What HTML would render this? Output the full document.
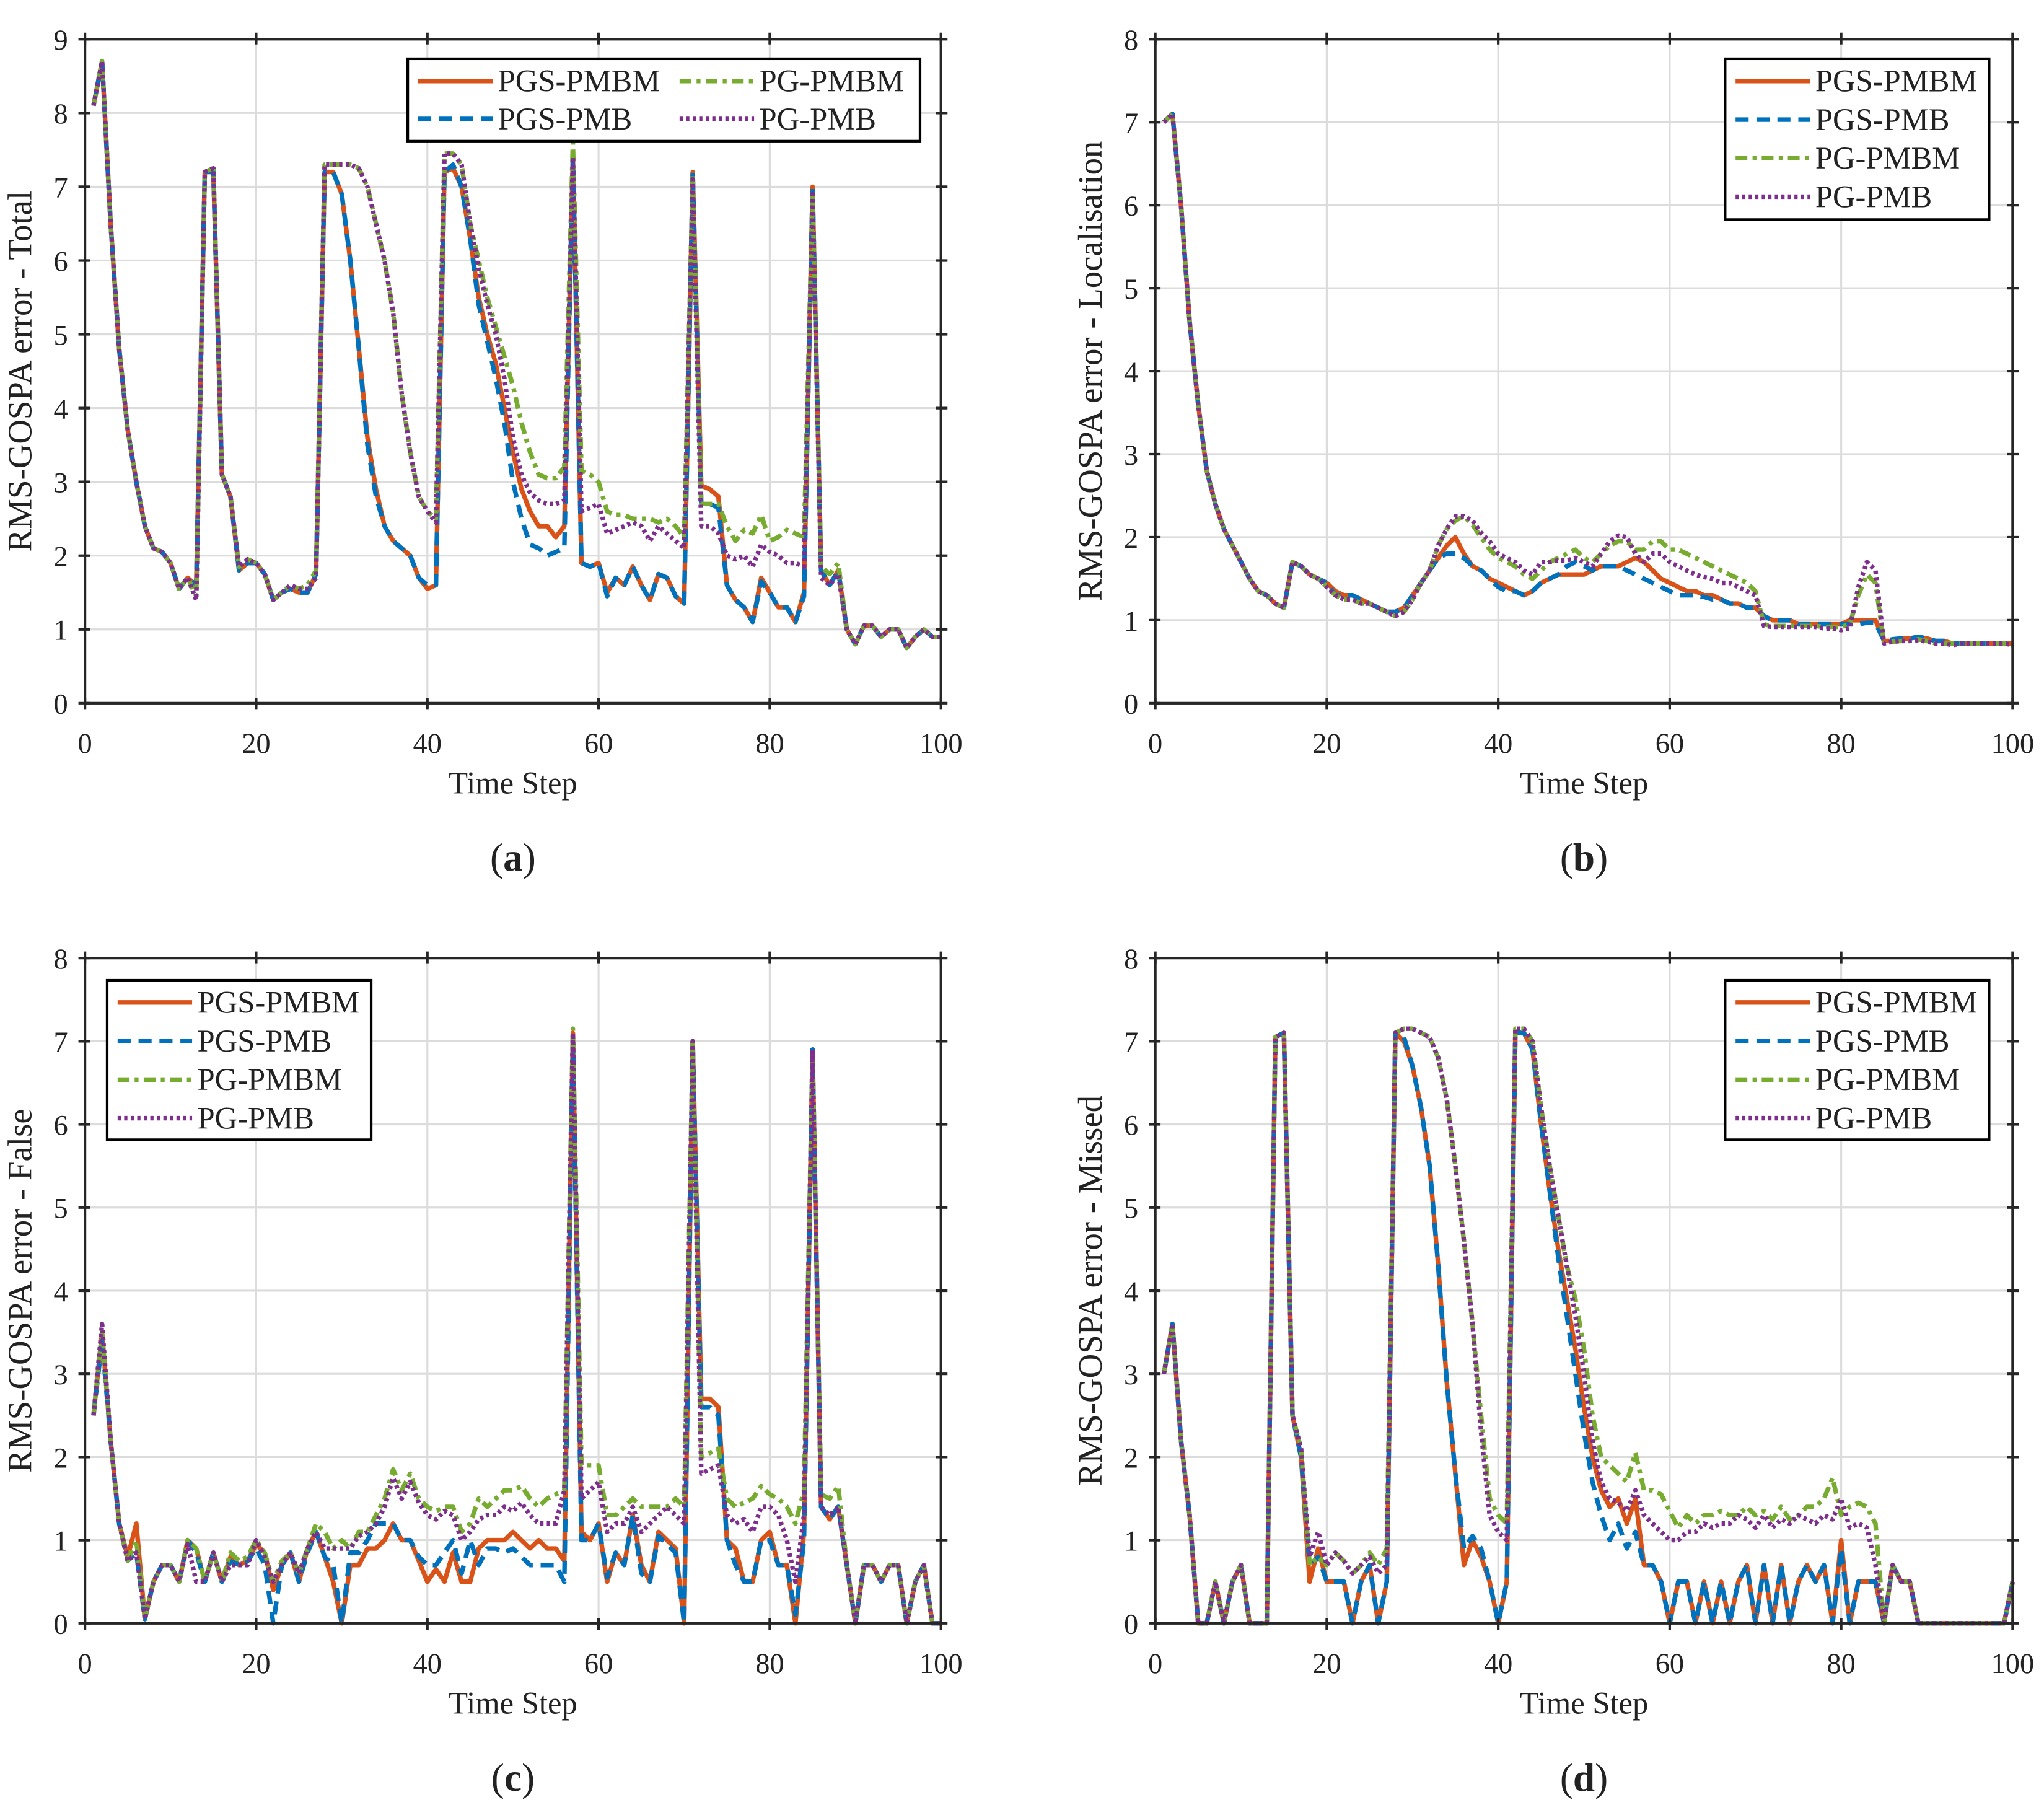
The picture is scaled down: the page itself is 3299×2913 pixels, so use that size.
<!DOCTYPE html>
<html><head><meta charset="utf-8">
<style>
html,body{margin:0;padding:0;background:#fff;}
svg{display:block;}
text{font-family:"Liberation Serif","DejaVu Serif",serif;fill:#222;}
</style></head>
<body>
<svg id="fig" xmlns="http://www.w3.org/2000/svg" width="3299" height="2913" viewBox="0 0 1564 1381">
<rect width="1564" height="1381" fill="#fff"/>
</svg>
<script>
const timeSteps=[];for(let i=1;i<=100;i++)timeSteps.push(i);
const seriesNames=["PGS-PMBM","PGS-PMB","PG-PMBM","PG-PMB"];
const xTicks=[0,20,40,60,80,100];
// Panel (a) total
const a_pgsPmbm=[8.1,8.7,6.5,4.8,3.7,3.0,2.4,2.1,2.05,1.9,1.55,1.7,1.6,7.2,7.2,3.1,2.8,1.8,1.9,1.9,1.75,1.4,1.5,1.55,1.5,1.5,1.75,7.2,7.2,6.9,6.0,4.8,3.6,2.9,2.4,2.2,2.1,2.0,1.7,1.55,1.6,7.2,7.25,7.0,6.3,5.5,5.0,4.6,4.0,3.4,2.9,2.6,2.4,2.4,2.25,2.4,7.4,1.9,1.85,1.9,1.5,1.7,1.6,1.85,1.6,1.4,1.75,1.7,1.45,1.35,7.2,2.95,2.9,2.8,1.6,1.4,1.3,1.1,1.7,1.5,1.3,1.3,1.1,1.5,7.0,1.8,1.6,1.8,1.0,0.8,1.05,1.05,0.9,1.0,1.0,0.75,0.9,1.0,0.9,0.9];
const a_pgsPmb=[8.1,8.7,6.5,4.8,3.7,3.0,2.4,2.1,2.05,1.9,1.55,1.7,1.6,7.2,7.2,3.1,2.8,1.8,1.9,1.9,1.75,1.4,1.5,1.55,1.5,1.5,1.75,7.2,7.2,6.9,6.0,4.8,3.5,2.8,2.4,2.2,2.1,2.0,1.7,1.6,1.6,7.2,7.3,7.0,6.3,5.4,4.9,4.4,3.8,3.0,2.5,2.15,2.1,2.0,2.05,2.1,7.4,1.9,1.85,1.9,1.45,1.7,1.6,1.85,1.6,1.4,1.75,1.7,1.45,1.35,7.2,2.7,2.7,2.65,1.6,1.4,1.3,1.1,1.65,1.5,1.3,1.3,1.1,1.45,7.0,1.8,1.6,1.8,1.0,0.8,1.05,1.05,0.9,1.0,1.0,0.75,0.9,1.0,0.9,0.9];
const a_pgPmbm=[8.1,8.7,6.5,4.8,3.7,3.0,2.4,2.1,2.05,1.9,1.55,1.7,1.45,7.2,7.25,3.1,2.8,1.85,1.95,1.9,1.75,1.4,1.5,1.6,1.55,1.6,1.8,7.3,7.3,7.3,7.3,7.25,7.0,6.5,6.0,5.3,4.2,3.4,2.8,2.6,2.5,7.45,7.45,7.3,6.5,6.0,5.5,5.1,4.7,4.3,3.8,3.4,3.1,3.05,3.05,3.2,7.6,3.15,3.1,3.0,2.6,2.55,2.55,2.5,2.5,2.5,2.45,2.5,2.4,2.25,7.15,2.7,2.7,2.7,2.4,2.2,2.35,2.3,2.55,2.2,2.25,2.35,2.3,2.25,6.9,1.85,1.75,1.9,1.0,0.8,1.05,1.05,0.9,1.0,1.0,0.75,0.9,1.0,0.9,0.9];
const a_pgPmb=[8.1,8.7,6.5,4.8,3.7,3.0,2.4,2.1,2.05,1.9,1.55,1.7,1.4,7.2,7.25,3.1,2.8,1.85,1.95,1.9,1.75,1.4,1.5,1.6,1.55,1.55,1.7,7.3,7.3,7.3,7.3,7.25,7.0,6.5,6.0,5.3,4.2,3.4,2.8,2.6,2.45,7.45,7.45,7.3,6.5,5.9,5.4,5.0,4.4,3.6,3.1,2.85,2.75,2.7,2.7,2.75,7.4,2.6,2.65,2.7,2.3,2.35,2.4,2.45,2.4,2.2,2.4,2.3,2.2,2.1,7.1,2.4,2.4,2.3,2.0,1.95,2.0,1.85,2.15,2.05,2.0,1.9,1.9,1.85,6.9,1.7,1.6,1.75,1.0,0.8,1.05,1.05,0.9,1.0,1.0,0.75,0.9,1.0,0.9,0.9];
// Panel (b) localisation
const b_pgsPmbm=[7.0,7.1,6.0,4.6,3.6,2.8,2.4,2.1,1.9,1.7,1.5,1.35,1.3,1.2,1.15,1.7,1.65,1.55,1.5,1.45,1.35,1.3,1.3,1.25,1.2,1.15,1.1,1.1,1.15,1.3,1.45,1.6,1.75,1.9,2.0,1.8,1.65,1.6,1.5,1.45,1.4,1.35,1.3,1.35,1.45,1.5,1.55,1.55,1.55,1.55,1.6,1.65,1.65,1.65,1.7,1.75,1.7,1.6,1.5,1.45,1.4,1.35,1.35,1.3,1.3,1.25,1.2,1.2,1.15,1.15,1.05,1.0,1.0,1.0,0.95,0.95,0.95,0.95,0.95,0.95,1.0,1.0,1.0,1.0,0.75,0.75,0.78,0.78,0.8,0.78,0.75,0.75,0.72,0.72,0.72,0.72,0.72,0.72,0.72,0.72];
const b_pgsPmb=[7.0,7.1,6.0,4.6,3.6,2.8,2.4,2.1,1.9,1.7,1.5,1.35,1.3,1.2,1.15,1.7,1.65,1.55,1.5,1.45,1.3,1.3,1.3,1.25,1.2,1.15,1.1,1.1,1.15,1.3,1.45,1.6,1.75,1.8,1.8,1.75,1.65,1.6,1.5,1.4,1.35,1.35,1.3,1.35,1.45,1.5,1.55,1.65,1.7,1.65,1.6,1.65,1.65,1.65,1.6,1.55,1.5,1.45,1.4,1.35,1.3,1.3,1.3,1.28,1.25,1.25,1.2,1.2,1.15,1.15,1.05,1.0,1.0,1.0,0.95,0.95,0.95,0.95,0.95,0.95,0.95,0.95,0.97,0.97,0.75,0.77,0.78,0.78,0.8,0.78,0.75,0.75,0.72,0.72,0.72,0.72,0.72,0.72,0.72,0.72];
const b_pgPmbm=[7.0,7.1,6.0,4.6,3.6,2.8,2.4,2.1,1.9,1.7,1.5,1.35,1.3,1.2,1.15,1.7,1.65,1.55,1.5,1.4,1.3,1.25,1.25,1.2,1.2,1.15,1.1,1.05,1.1,1.25,1.45,1.6,1.9,2.1,2.2,2.25,2.15,2.0,1.85,1.75,1.7,1.65,1.55,1.5,1.6,1.7,1.75,1.8,1.85,1.75,1.7,1.8,1.9,1.95,1.95,1.85,1.85,1.95,1.95,1.85,1.85,1.8,1.75,1.7,1.65,1.6,1.55,1.5,1.45,1.35,0.95,0.93,0.93,0.93,0.93,0.93,0.93,0.92,0.92,0.92,0.95,1.3,1.55,1.45,0.72,0.74,0.75,0.75,0.77,0.75,0.72,0.72,0.72,0.72,0.72,0.72,0.72,0.72,0.72,0.7];
const b_pgPmb=[7.0,7.1,6.0,4.6,3.6,2.8,2.4,2.1,1.9,1.7,1.5,1.35,1.3,1.2,1.15,1.7,1.65,1.55,1.5,1.4,1.3,1.25,1.25,1.2,1.2,1.15,1.1,1.05,1.1,1.25,1.45,1.6,1.9,2.1,2.25,2.25,2.2,2.05,1.95,1.8,1.75,1.7,1.6,1.55,1.7,1.7,1.72,1.72,1.75,1.7,1.65,1.8,1.95,2.02,2.0,1.8,1.7,1.8,1.8,1.7,1.65,1.6,1.55,1.52,1.5,1.45,1.45,1.4,1.35,1.3,0.93,0.92,0.92,0.92,0.92,0.92,0.92,0.9,0.9,0.88,0.9,1.4,1.7,1.6,0.72,0.74,0.75,0.75,0.76,0.74,0.72,0.72,0.7,0.72,0.72,0.72,0.72,0.72,0.72,0.7];
// Panel (c) false
const c_pgsPmbm=[2.5,3.5,2.2,1.2,0.8,1.2,0.05,0.5,0.7,0.7,0.5,1.0,0.9,0.5,0.85,0.5,0.8,0.7,0.75,0.95,0.85,0.4,0.7,0.85,0.5,0.9,1.1,0.8,0.5,0.0,0.7,0.7,0.9,0.9,1.0,1.2,1.0,1.0,0.75,0.5,0.65,0.5,0.85,0.5,0.5,0.9,1.0,1.0,1.0,1.1,1.0,0.9,1.0,0.9,0.9,0.75,7.1,1.1,1.0,1.2,0.5,0.85,0.7,1.3,0.7,0.5,1.1,1.0,0.9,0.0,7.0,2.7,2.7,2.6,1.0,0.9,0.5,0.5,1.0,1.1,0.7,0.7,0.0,1.1,6.9,1.4,1.25,1.4,0.7,0.0,0.7,0.7,0.5,0.7,0.7,0.0,0.5,0.7,0.0,0.0];
const c_pgsPmb=[2.5,3.4,2.2,1.2,0.75,0.85,0.05,0.5,0.7,0.7,0.5,1.0,0.85,0.5,0.85,0.5,0.75,0.7,0.75,0.9,0.7,0.0,0.7,0.85,0.5,0.85,1.1,0.8,0.7,0.0,0.85,0.85,1.0,1.2,1.2,1.2,1.0,1.0,0.8,0.7,0.7,0.85,1.0,0.6,1.0,0.7,0.9,0.9,0.85,0.9,0.8,0.7,0.7,0.7,0.7,0.5,7.0,1.0,1.0,1.2,0.55,0.85,0.7,1.3,0.6,0.5,1.05,0.95,0.85,0.0,7.0,2.6,2.6,2.5,1.0,0.7,0.5,0.5,1.0,1.0,0.7,0.7,0.1,1.0,6.9,1.4,1.25,1.4,0.7,0.0,0.7,0.7,0.5,0.7,0.7,0.0,0.5,0.7,0.0,0.0];
const c_pgPmbm=[2.5,3.5,2.2,1.2,0.75,1.0,0.05,0.5,0.7,0.7,0.5,1.0,0.9,0.5,0.85,0.5,0.85,0.75,0.8,1.0,0.85,0.5,0.75,0.85,0.6,0.9,1.2,1.1,0.9,1.0,0.9,1.1,1.1,1.3,1.5,1.85,1.6,1.8,1.5,1.4,1.35,1.4,1.4,1.1,1.2,1.5,1.4,1.5,1.6,1.6,1.65,1.5,1.4,1.5,1.55,1.6,7.15,1.9,1.9,1.9,1.3,1.3,1.4,1.5,1.4,1.4,1.4,1.4,1.5,1.4,7.0,2.0,2.05,2.1,1.5,1.4,1.45,1.5,1.65,1.55,1.5,1.4,1.2,1.6,6.9,1.55,1.5,1.65,0.7,0.0,0.7,0.7,0.5,0.7,0.7,0.0,0.5,0.7,0.0,0.0];
const c_pgPmb=[2.5,3.6,2.2,1.2,0.75,0.85,0.05,0.5,0.7,0.7,0.5,0.95,0.5,0.5,0.85,0.5,0.7,0.7,0.7,1.0,0.8,0.5,0.7,0.85,0.6,0.9,1.1,0.9,0.9,0.9,0.9,1.05,1.1,1.2,1.4,1.75,1.5,1.7,1.45,1.3,1.25,1.35,1.3,1.0,1.1,1.25,1.3,1.3,1.4,1.35,1.45,1.3,1.2,1.2,1.2,1.6,7.1,1.5,1.6,1.7,1.1,1.2,1.2,1.4,1.1,1.2,1.3,1.4,1.3,1.2,7.0,1.8,1.85,1.9,1.3,1.2,1.25,1.1,1.4,1.4,1.3,1.0,0.5,1.3,6.9,1.4,1.3,1.4,0.7,0.0,0.7,0.7,0.5,0.7,0.7,0.0,0.5,0.7,0.0,0.0];
// Panel (d) missed
const d_pgsPmbm=[3.0,3.6,2.2,1.3,0.0,0.0,0.5,0.0,0.5,0.7,0.0,0.0,0.0,7.05,7.1,2.5,2.0,0.5,0.9,0.5,0.5,0.5,0.0,0.5,0.7,0.0,0.5,7.1,7.0,6.7,6.2,5.5,4.3,2.9,1.8,0.7,1.0,0.8,0.5,0.0,0.5,7.1,7.1,6.9,6.0,5.2,4.5,3.9,3.3,2.6,2.0,1.6,1.4,1.5,1.2,1.5,0.7,0.7,0.5,0.0,0.5,0.5,0.0,0.5,0.0,0.5,0.0,0.5,0.7,0.0,0.7,0.0,0.7,0.0,0.5,0.7,0.5,0.7,0.0,1.0,0.0,0.5,0.5,0.5,0.0,0.7,0.5,0.5,0.0,0.0,0.0,0.0,0.0,0.0,0.0,0.0,0.0,0.0,0.0,0.5];
const d_pgsPmb=[3.0,3.6,2.2,1.3,0.0,0.0,0.5,0.0,0.5,0.7,0.0,0.0,0.0,7.05,7.1,2.5,2.0,0.7,0.8,0.5,0.5,0.5,0.0,0.5,0.7,0.0,0.5,7.1,7.05,6.7,6.2,5.5,4.3,2.9,1.8,0.9,1.05,0.9,0.5,0.0,0.5,7.1,7.1,6.9,6.0,5.2,4.4,3.7,3.0,2.3,1.7,1.3,1.0,1.2,0.9,1.1,0.7,0.7,0.5,0.0,0.5,0.5,0.0,0.5,0.0,0.5,0.0,0.5,0.7,0.0,0.7,0.0,0.7,0.0,0.5,0.7,0.5,0.7,0.0,0.9,0.0,0.5,0.5,0.5,0.0,0.7,0.5,0.5,0.0,0.0,0.0,0.0,0.0,0.0,0.0,0.0,0.0,0.0,0.0,0.5];
const d_pgPmbm=[3.0,3.6,2.2,1.3,0.0,0.0,0.5,0.0,0.5,0.7,0.0,0.0,0.0,7.05,7.1,2.5,2.1,0.7,0.8,0.7,0.85,0.75,0.6,0.7,0.85,0.7,0.9,7.1,7.15,7.15,7.1,7.05,6.8,6.3,5.5,4.6,3.6,2.5,1.5,1.3,1.2,7.15,7.15,7.0,6.2,5.5,4.9,4.3,3.9,3.3,2.5,2.0,1.9,1.8,1.7,2.05,1.6,1.6,1.55,1.35,1.15,1.3,1.2,1.3,1.3,1.35,1.3,1.3,1.4,1.3,1.35,1.25,1.4,1.25,1.3,1.4,1.4,1.5,1.75,1.3,1.4,1.45,1.4,1.2,0.0,0.7,0.5,0.5,0.0,0.0,0.0,0.0,0.0,0.0,0.0,0.0,0.0,0.0,0.0,0.5];
const d_pgPmb=[3.0,3.6,2.2,1.3,0.0,0.0,0.5,0.0,0.5,0.7,0.0,0.0,0.0,7.05,7.1,2.5,2.1,0.8,1.1,0.7,0.85,0.75,0.6,0.7,0.8,0.6,0.7,7.1,7.15,7.15,7.1,7.05,6.8,6.3,5.5,4.6,3.6,2.3,1.3,1.1,1.0,7.15,7.15,7.0,6.2,5.5,4.9,4.3,3.7,3.0,2.2,1.7,1.5,1.45,1.35,1.6,1.3,1.2,1.1,1.0,1.0,1.1,1.1,1.2,1.15,1.2,1.2,1.3,1.25,1.15,1.3,1.15,1.25,1.2,1.3,1.25,1.2,1.3,1.25,1.5,1.15,1.2,1.15,0.7,0.0,0.7,0.5,0.5,0.0,0.0,0.0,0.0,0.0,0.0,0.0,0.0,0.0,0.0,0.0,0.5];

const NS="http://www.w3.org/2000/svg";
const svg=document.getElementById('fig');
const colors=["#D95319","#0072BD","#77AC30","#7E2F8E"];
const dashes=["none","10,6","9,4,3,4","2.5,2.5"];
function mk(tag,attrs,parent){const e=document.createElementNS(NS,tag);for(const k in attrs)e.setAttribute(k,attrs[k]);(parent||svg).appendChild(e);return e;}

const panels=[
 {id:"a",x0:65,x1:720,y0:538,y1:30,ymax:9,ylabel:"RMS-GOSPA error - Total",data:[a_pgsPmbm,a_pgsPmb,a_pgPmbm,a_pgPmb],leg:{x:312,y:45,w:392,h:63,cols:2}},
 {id:"b",x0:884,x1:1540,y0:538,y1:30,ymax:8,ylabel:"RMS-GOSPA error - Localisation",data:[b_pgsPmbm,b_pgsPmb,b_pgPmbm,b_pgPmb],leg:{x:1320,y:45,w:202,h:123,cols:1}},
 {id:"c",x0:65,x1:720,y0:1242,y1:733,ymax:8,ylabel:"RMS-GOSPA error - False",data:[c_pgsPmbm,c_pgsPmb,c_pgPmbm,c_pgPmb],leg:{x:82,y:750,w:202,h:122,cols:1}},
 {id:"d",x0:884,x1:1540,y0:1242,y1:733,ymax:8,ylabel:"RMS-GOSPA error - Missed",data:[d_pgsPmbm,d_pgsPmb,d_pgPmbm,d_pgPmb],leg:{x:1320,y:750,w:202,h:122,cols:1}}
];

panels.forEach(p=>{
  const g=mk('g',{});
  
  
  const sx=v=>p.x0+(v/100)*(p.x1-p.x0);
  const sy=v=>p.y0-(v/p.ymax)*(p.y0-p.y1);
  xTicks.forEach(t=>{
    const l=mk('line',{x1:sx(t),x2:sx(t),y1:p.y1,y2:p.y0,stroke:"#dcdcdc","stroke-width":1.5},g);
    
    
  });
  for(let t=0;t<=p.ymax;t++){
    const l=mk('line',{x1:p.x0,x2:p.x1,y1:sy(t),y2:sy(t),stroke:"#dcdcdc","stroke-width":1.5},g);
    
    
  }
  p.data.forEach((arr,si)=>{
    const pts=arr.map((v,i)=>sx(timeSteps[i]).toFixed(2)+","+sy(v).toFixed(2)).join(" ");
    const pl=mk('polyline',{points:pts,fill:"none",stroke:colors[si],"stroke-width":3.5,"stroke-dasharray":dashes[si],"stroke-linejoin":"round"},g);
    
    
  });
  const box=mk('rect',{x:p.x0,y:p.y1,width:p.x1-p.x0,height:p.y0-p.y1,fill:"none",stroke:"#262626","stroke-width":2},g);
  
  
  xTicks.forEach(t=>{
    mk('line',{x1:sx(t),x2:sx(t),y1:p.y0-4,y2:p.y0+5,stroke:"#262626","stroke-width":2},g);
    mk('line',{x1:sx(t),x2:sx(t),y1:p.y1-5,y2:p.y1+4,stroke:"#262626","stroke-width":2},g);
    const tx=mk('text',{x:sx(t),y:p.y0+38,"text-anchor":"middle","font-size":22},g);
    tx.textContent=t;
    
    
  });
  for(let t=0;t<=p.ymax;t++){
    mk('line',{x1:p.x0-5,x2:p.x0+4,y1:sy(t),y2:sy(t),stroke:"#262626","stroke-width":2},g);
    mk('line',{x1:p.x1-4,x2:p.x1+5,y1:sy(t),y2:sy(t),stroke:"#262626","stroke-width":2},g);
    const ty=mk('text',{x:p.x0-13,y:sy(t)+8,"text-anchor":"end","font-size":22},g);
    ty.textContent=t;
    
    
  }
  const xl=mk('text',{x:(p.x0+p.x1)/2,y:p.y0+69,"text-anchor":"middle","font-size":24},g);
  xl.textContent="Time Step";
  
  
  const cy=(p.y0+p.y1)/2;
  const yl=mk('text',{x:0,y:0,"text-anchor":"middle","font-size":26,transform:`translate(${p.x0-41},${cy}) rotate(-90)`},g);
  yl.textContent=p.ylabel;
  
  
  const cap=mk('text',{x:(p.x0+p.x1)/2,y:p.y0+128,"text-anchor":"middle","font-size":30},g);
  cap.innerHTML='(<tspan font-weight="bold">'+p.id+'</tspan>)';
  
  
  const L=p.leg;
  const lg=mk('g',{},g);
  
  
  mk('rect',{x:L.x,y:L.y,width:L.w,height:L.h,fill:"#fff",stroke:"#000","stroke-width":2},lg);
  [0,1,2,3].forEach((si,k)=>{
    let ex,ey;
    if(L.cols===2){ex=L.x+(k<2?0:200);ey=L.y+17+(k%2)*29;}
    else{ex=L.x;ey=L.y+17+k*29.5;}
    const e=mk('g',{},lg);
    
    
    mk('line',{x1:ex+8,x2:ex+65,y1:ey,y2:ey,stroke:colors[si],"stroke-width":3.5,"stroke-dasharray":dashes[si]},e);
    const t=mk('text',{x:ex+69,y:ey+8,"font-size":24,fill:"#000"},e);
    t.textContent=seriesNames[si];
  });
});
</script>
</body></html>
